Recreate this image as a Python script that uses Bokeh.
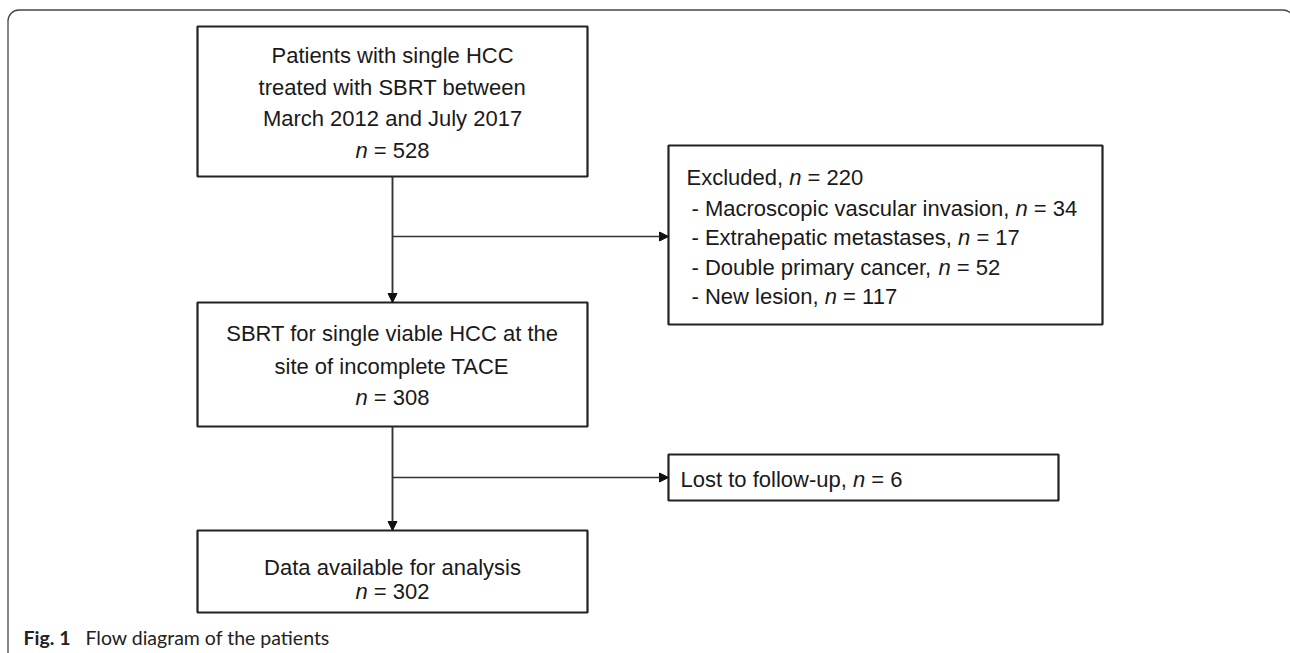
from bokeh.plotting import figure
from bokeh.models import Range1d, BoxAnnotation, Arrow, NormalHead, ColumnDataSource
from bokeh.core.properties import value
from bokeh.embed import file_html
from bokeh.resources import INLINE

# ---------------- data ----------------
main_stage_lines = [
    ["Patients with single HCC", "treated with SBRT between", "March 2012 and July 2017"],
    ["SBRT for single viable HCC at the", "site of incomplete TACE"],
    ["Data available for analysis"],
]
main_stage_n = [528, 308, 302]
excluded_label = "Excluded"
excluded_total = 220
excluded_reasons = ["Macroscopic vascular invasion", "Extrahepatic metastases",
                    "Double primary cancer", "New lesion"]
excluded_n = [34, 17, 52, 117]
lost_label = "Lost to follow-up"
lost_n = 6
caption_bold = "Fig. 1"
caption_text = "Flow diagram of the patients"

# ---------------- layout (page pixels) ----------------
FONT = "Liberation Sans"
FS = 22
main_cx = 392
main_boxes = [(197, 587, 26, 176), (197, 587, 302, 426), (197, 587, 530, 612)]
main_line_y = [[55, 87, 118, 150], [333, 366, 397], [567, 591]]
excl_box = (668, 1102, 145, 324)
excl_x0, excl_x1 = 686, 691
excl_y = [177, 208, 237, 267, 296]
lost_box = (668, 1058, 454, 500)
lost_x, lost_y = 680, 479

# Arial / Liberation Sans advance widths (per 1000 em)
W = {' ': 278, ',': 278, '-': 333, '.': 278, '=': 584}
for c in "0123456789":
    W[c] = 556
W.update(dict(A=667, B=667, C=722, D=722, E=667, F=611, G=778, H=722, I=278, J=500, K=667,
              L=556, M=833, N=722, O=778, P=667, Q=778, R=722, S=667, T=611, U=722, V=667,
              W=944, X=667, Y=667, Z=611))
W.update(dict(a=556, b=556, c=500, d=556, e=556, f=278, g=556, h=556, i=222, j=222, k=500,
              l=222, m=833, n=556, o=556, p=556, q=556, r=333, s=500, t=278, u=556, v=500,
              w=722, x=500, y=500, z=500))


def tw(s):
    return sum(W.get(ch, 556) for ch in s) * FS / 1000.0


normal = dict(x=[], y=[], text=[])
italic = dict(x=[], y=[], text=[])


def add_runs(runs, x, y, centered=False):
    total = sum(tw(s) for s, _ in runs)
    cx = x - total / 2 if centered else x
    for s, it in runs:
        d = italic if it else normal
        stripped = s.lstrip(" ")
        d["x"].append(cx + tw(s[:len(s) - len(stripped)]))
        d["y"].append(y)
        d["text"].append(stripped.rstrip(" "))
        cx += tw(s)


def n_runs(prefix, n):
    return [(prefix, False), ("n", True), (" = %d" % n, False)]


for lines, n, ys in zip(main_stage_lines, main_stage_n, main_line_y):
    for ln, yy in zip(lines, ys):
        add_runs([(ln, False)], main_cx, yy, centered=True)
    add_runs([("n", True), (" = %d" % n, False)], main_cx, ys[len(lines)], centered=True)

add_runs(n_runs(excluded_label + ", ", excluded_total), excl_x0, excl_y[0])
for reason, n, yy in zip(excluded_reasons, excluded_n, excl_y[1:]):
    add_runs(n_runs("- " + reason + ", ", n), excl_x1, yy)
add_runs(n_runs(lost_label + ", ", lost_n), lost_x, lost_y)

# ---------------- figure ----------------
p = figure(width=1290, height=653, x_range=Range1d(0, 1290), y_range=Range1d(653, 0),
           output_backend="svg", toolbar_location=None, min_border=0,
           x_axis_location=None, y_axis_location=None)
p.grid.visible = False
p.outline_line_color = None
p.background_fill_color = "white"
p.border_fill_color = "white"

# outer rounded frame
p.add_layout(BoxAnnotation(left=7.5, right=1293.5, top=9.5, bottom=720, border_radius=11,
                           fill_alpha=0, line_alpha=1.0, line_color="#454545", line_width=1.3))

# connectors
LC = "#333333"
mid1 = 236
mid2 = 477
p.line([main_cx, main_cx], [main_boxes[0][3], main_boxes[1][2]], line_color=LC, line_width=1.5)
p.line([main_cx, main_cx], [main_boxes[1][3], main_boxes[2][2]], line_color=LC, line_width=1.5)
for (xs, ys, xe, ye) in [(main_cx, mid1, excl_box[0], mid1),
                         (main_cx, mid2, lost_box[0], mid2),
                         (main_cx, main_boxes[0][3], main_cx, main_boxes[1][2]),
                         (main_cx, main_boxes[1][3], main_cx, main_boxes[2][2])]:
    p.add_layout(Arrow(x_start=xs, y_start=ys, x_end=xe, y_end=ye, line_color=LC, line_width=1.5,
                       end=NormalHead(size=9, fill_color="#111111", line_color="#111111", line_width=1)))

# boxes
allboxes = main_boxes + [excl_box, lost_box]
p.quad(left=[b[0] for b in allboxes], right=[b[1] for b in allboxes],
       top=[b[2] for b in allboxes], bottom=[b[3] for b in allboxes],
       fill_color="white", line_color="#222222", line_width=2.2)

p.text(x="x", y="y", text="text", source=ColumnDataSource(normal), text_font=value(FONT),
       text_font_size="%dpx" % FS, text_baseline="middle", text_align="left", text_color="#1a1a1a")
p.text(x="x", y="y", text="text", source=ColumnDataSource(italic), text_font=value(FONT),
       text_font_size="%dpx" % FS, text_font_style="italic", text_baseline="middle",
       text_align="left", text_color="#1a1a1a")

# caption
p.text(x=[23], y=[637], text=[caption_bold], text_font=value("Lato"), text_font_size="19.5px",
       text_font_style="bold", text_baseline="middle", text_color="#222222")
p.text(x=[85], y=[637], text=[caption_text], text_font=value("Lato"), text_font_size="19.5px",
       text_baseline="middle", text_color="#222222")

open("out.html", "w").write(file_html(p, INLINE))
